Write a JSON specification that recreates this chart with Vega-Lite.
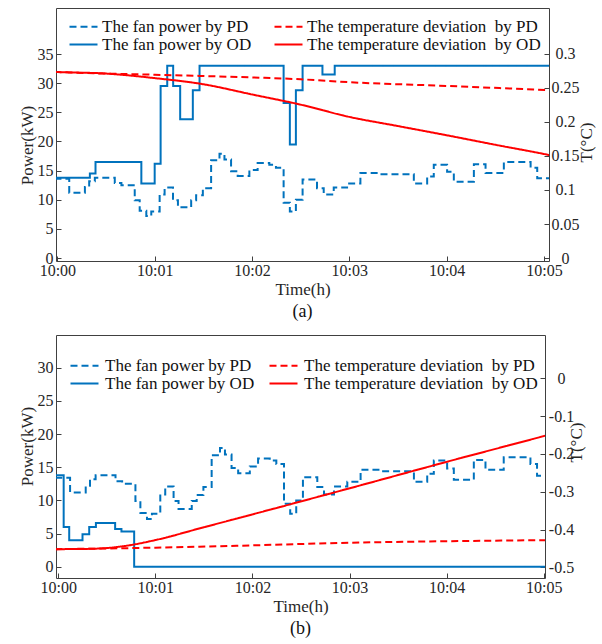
{
  "$schema": "https://vega.github.io/schema/vega-lite/v6.json",
  "padding": {"left": 17, "top": 7, "right": 5, "bottom": 5},
  "background": "white",
  "spacing": 12,
  "config": {
    "font": "Liberation Serif, Times New Roman, serif",
    "view": {"stroke": "#404040", "strokeWidth": 1},
    "axis": {"grid": false, "domain": false, "ticks": true, "tickSize": -5, "tickColor": "#404040", "tickWidth": 1,
      "labelFont": "Liberation Serif, Times New Roman, serif", "labelFontSize": 16, "labelColor": "#262626",
      "titleFont": "Liberation Serif, Times New Roman, serif", "titleFontSize": 17, "titleFontWeight": "normal", "titleColor": "#262626"},
    "legend": {"labelFont": "Liberation Serif, Times New Roman, serif", "labelFontSize": 17, "labelColor": "#111111", "labelLimit": 0},
    "title": {"font": "Liberation Serif, Times New Roman, serif", "fontSize": 18, "fontWeight": "normal", "color": "#111111"}
  },
  "resolve": {"scale": {"color": "independent", "strokeDash": "independent"}, "legend": {"color": "independent", "strokeDash": "independent"}},
  "datasets": {
    "fan_a": [
      {"t": -0.03, "v": 13.6, "series": "The fan power by PD"},
      {"t": 0.122, "v": 11.2, "series": "The fan power by PD"},
      {"t": 0.283, "v": 12.2, "series": "The fan power by PD"},
      {"t": 0.327, "v": 13.2, "series": "The fan power by PD"},
      {"t": 0.385, "v": 13.8, "series": "The fan power by PD"},
      {"t": 0.59, "v": 12.9, "series": "The fan power by PD"},
      {"t": 0.658, "v": 12.5, "series": "The fan power by PD"},
      {"t": 0.795, "v": 9.9, "series": "The fan power by PD"},
      {"t": 0.846, "v": 8.1, "series": "The fan power by PD"},
      {"t": 0.914, "v": 7.2, "series": "The fan power by PD"},
      {"t": 0.965, "v": 8.0, "series": "The fan power by PD"},
      {"t": 1.051, "v": 10.9, "series": "The fan power by PD"},
      {"t": 1.102, "v": 12.1, "series": "The fan power by PD"},
      {"t": 1.188, "v": 9.9, "series": "The fan power by PD"},
      {"t": 1.239, "v": 8.7, "series": "The fan power by PD"},
      {"t": 1.375, "v": 9.9, "series": "The fan power by PD"},
      {"t": 1.426, "v": 10.8, "series": "The fan power by PD"},
      {"t": 1.495, "v": 12.0, "series": "The fan power by PD"},
      {"t": 1.58, "v": 16.8, "series": "The fan power by PD"},
      {"t": 1.666, "v": 17.9, "series": "The fan power by PD"},
      {"t": 1.717, "v": 16.9, "series": "The fan power by PD"},
      {"t": 1.785, "v": 14.9, "series": "The fan power by PD"},
      {"t": 1.853, "v": 14.1, "series": "The fan power by PD"},
      {"t": 1.973, "v": 15.1, "series": "The fan power by PD"},
      {"t": 2.058, "v": 16.3, "series": "The fan power by PD"},
      {"t": 2.178, "v": 16.0, "series": "The fan power by PD"},
      {"t": 2.246, "v": 15.5, "series": "The fan power by PD"},
      {"t": 2.325, "v": 9.5, "series": "The fan power by PD"},
      {"t": 2.389, "v": 8.0, "series": "The fan power by PD"},
      {"t": 2.451, "v": 10.0, "series": "The fan power by PD"},
      {"t": 2.52, "v": 13.5, "series": "The fan power by PD"},
      {"t": 2.668, "v": 12.0, "series": "The fan power by PD"},
      {"t": 2.737, "v": 10.9, "series": "The fan power by PD"},
      {"t": 2.84, "v": 12.1, "series": "The fan power by PD"},
      {"t": 2.977, "v": 12.8, "series": "The fan power by PD"},
      {"t": 3.114, "v": 14.6, "series": "The fan power by PD"},
      {"t": 3.32, "v": 14.4, "series": "The fan power by PD"},
      {"t": 3.663, "v": 12.8, "series": "The fan power by PD"},
      {"t": 3.8, "v": 14.0, "series": "The fan power by PD"},
      {"t": 3.868, "v": 16.0, "series": "The fan power by PD"},
      {"t": 4.005, "v": 14.8, "series": "The fan power by PD"},
      {"t": 4.074, "v": 13.1, "series": "The fan power by PD"},
      {"t": 4.28, "v": 16.1, "series": "The fan power by PD"},
      {"t": 4.4, "v": 14.6, "series": "The fan power by PD"},
      {"t": 4.588, "v": 16.5, "series": "The fan power by PD"},
      {"t": 4.863, "v": 15.5, "series": "The fan power by PD"},
      {"t": 4.931, "v": 13.7, "series": "The fan power by PD"},
      {"t": 5.1, "v": 13.7, "series": "The fan power by PD"},
      {"t": -0.03, "v": 13.8, "series": "The fan power by OD"},
      {"t": 0.334, "v": 14.5, "series": "The fan power by OD"},
      {"t": 0.392, "v": 16.5, "series": "The fan power by OD"},
      {"t": 0.863, "v": 12.8, "series": "The fan power by OD"},
      {"t": 1.0, "v": 16.2, "series": "The fan power by OD"},
      {"t": 1.061, "v": 29.5, "series": "The fan power by OD"},
      {"t": 1.129, "v": 33.0, "series": "The fan power by OD"},
      {"t": 1.19, "v": 29.5, "series": "The fan power by OD"},
      {"t": 1.262, "v": 23.8, "series": "The fan power by OD"},
      {"t": 1.392, "v": 28.8, "series": "The fan power by OD"},
      {"t": 1.461, "v": 33.0, "series": "The fan power by OD"},
      {"t": 2.325, "v": 26.6, "series": "The fan power by OD"},
      {"t": 2.389, "v": 19.5, "series": "The fan power by OD"},
      {"t": 2.451, "v": 28.8, "series": "The fan power by OD"},
      {"t": 2.52, "v": 33.0, "series": "The fan power by OD"},
      {"t": 2.724, "v": 31.5, "series": "The fan power by OD"},
      {"t": 2.85, "v": 33.0, "series": "The fan power by OD"},
      {"t": 5.1, "v": 33.0, "series": "The fan power by OD"}
    ],
    "temp_a": [
      {"t": -0.03, "v": 0.2737, "series": "The temperature deviation\u00a0 by PD"},
      {"t": 0.0, "v": 0.2735, "series": "The temperature deviation\u00a0 by PD"},
      {"t": 1.0, "v": 0.2695, "series": "The temperature deviation\u00a0 by PD"},
      {"t": 2.0, "v": 0.2655, "series": "The temperature deviation\u00a0 by PD"},
      {"t": 2.5, "v": 0.2628, "series": "The temperature deviation\u00a0 by PD"},
      {"t": 3.0, "v": 0.2585, "series": "The temperature deviation\u00a0 by PD"},
      {"t": 4.0, "v": 0.253, "series": "The temperature deviation\u00a0 by PD"},
      {"t": 5.1, "v": 0.2465, "series": "The temperature deviation\u00a0 by PD"},
      {"t": -0.03, "v": 0.2737, "series": "The temperature deviation\u00a0 by OD"},
      {"t": 0.0, "v": 0.2735, "series": "The temperature deviation\u00a0 by OD"},
      {"t": 0.5, "v": 0.2712, "series": "The temperature deviation\u00a0 by OD"},
      {"t": 1.0, "v": 0.2645, "series": "The temperature deviation\u00a0 by OD"},
      {"t": 1.5, "v": 0.2555, "series": "The temperature deviation\u00a0 by OD"},
      {"t": 2.0, "v": 0.2405, "series": "The temperature deviation\u00a0 by OD"},
      {"t": 2.5, "v": 0.2255, "series": "The temperature deviation\u00a0 by OD"},
      {"t": 3.0, "v": 0.2075, "series": "The temperature deviation\u00a0 by OD"},
      {"t": 3.5, "v": 0.194, "series": "The temperature deviation\u00a0 by OD"},
      {"t": 4.0, "v": 0.1805, "series": "The temperature deviation\u00a0 by OD"},
      {"t": 4.5, "v": 0.1665, "series": "The temperature deviation\u00a0 by OD"},
      {"t": 5.05, "v": 0.1515, "series": "The temperature deviation\u00a0 by OD"},
      {"t": 5.1, "v": 0.150, "series": "The temperature deviation\u00a0 by OD"}
    ],
    "fan_b": [
      {"t": -0.03, "v": 13.4, "series": "The fan power by PD"},
      {"t": 0.122, "v": 11.2, "series": "The fan power by PD"},
      {"t": 0.283, "v": 12.2, "series": "The fan power by PD"},
      {"t": 0.327, "v": 13.2, "series": "The fan power by PD"},
      {"t": 0.385, "v": 13.8, "series": "The fan power by PD"},
      {"t": 0.59, "v": 12.9, "series": "The fan power by PD"},
      {"t": 0.658, "v": 12.5, "series": "The fan power by PD"},
      {"t": 0.795, "v": 9.9, "series": "The fan power by PD"},
      {"t": 0.846, "v": 8.1, "series": "The fan power by PD"},
      {"t": 0.914, "v": 7.2, "series": "The fan power by PD"},
      {"t": 0.965, "v": 8.0, "series": "The fan power by PD"},
      {"t": 1.051, "v": 10.9, "series": "The fan power by PD"},
      {"t": 1.102, "v": 12.1, "series": "The fan power by PD"},
      {"t": 1.188, "v": 9.9, "series": "The fan power by PD"},
      {"t": 1.239, "v": 8.7, "series": "The fan power by PD"},
      {"t": 1.375, "v": 9.9, "series": "The fan power by PD"},
      {"t": 1.426, "v": 10.8, "series": "The fan power by PD"},
      {"t": 1.495, "v": 12.0, "series": "The fan power by PD"},
      {"t": 1.58, "v": 16.8, "series": "The fan power by PD"},
      {"t": 1.666, "v": 17.9, "series": "The fan power by PD"},
      {"t": 1.717, "v": 16.9, "series": "The fan power by PD"},
      {"t": 1.785, "v": 14.9, "series": "The fan power by PD"},
      {"t": 1.853, "v": 14.1, "series": "The fan power by PD"},
      {"t": 1.973, "v": 15.1, "series": "The fan power by PD"},
      {"t": 2.058, "v": 16.3, "series": "The fan power by PD"},
      {"t": 2.178, "v": 16.0, "series": "The fan power by PD"},
      {"t": 2.246, "v": 15.5, "series": "The fan power by PD"},
      {"t": 2.325, "v": 9.5, "series": "The fan power by PD"},
      {"t": 2.389, "v": 8.0, "series": "The fan power by PD"},
      {"t": 2.451, "v": 10.0, "series": "The fan power by PD"},
      {"t": 2.52, "v": 13.5, "series": "The fan power by PD"},
      {"t": 2.668, "v": 12.0, "series": "The fan power by PD"},
      {"t": 2.737, "v": 10.9, "series": "The fan power by PD"},
      {"t": 2.84, "v": 12.1, "series": "The fan power by PD"},
      {"t": 2.977, "v": 12.8, "series": "The fan power by PD"},
      {"t": 3.114, "v": 14.6, "series": "The fan power by PD"},
      {"t": 3.32, "v": 14.4, "series": "The fan power by PD"},
      {"t": 3.663, "v": 12.8, "series": "The fan power by PD"},
      {"t": 3.8, "v": 14.0, "series": "The fan power by PD"},
      {"t": 3.868, "v": 16.0, "series": "The fan power by PD"},
      {"t": 4.005, "v": 14.8, "series": "The fan power by PD"},
      {"t": 4.074, "v": 13.1, "series": "The fan power by PD"},
      {"t": 4.28, "v": 16.1, "series": "The fan power by PD"},
      {"t": 4.4, "v": 14.6, "series": "The fan power by PD"},
      {"t": 4.588, "v": 16.5, "series": "The fan power by PD"},
      {"t": 4.863, "v": 15.5, "series": "The fan power by PD"},
      {"t": 4.931, "v": 13.7, "series": "The fan power by PD"},
      {"t": 5.1, "v": 13.7, "series": "The fan power by PD"},
      {"t": -0.03, "v": 13.8, "series": "The fan power by OD"},
      {"t": 0.056, "v": 6.0, "series": "The fan power by OD"},
      {"t": 0.113, "v": 4.0, "series": "The fan power by OD"},
      {"t": 0.25, "v": 4.9, "series": "The fan power by OD"},
      {"t": 0.319, "v": 6.0, "series": "The fan power by OD"},
      {"t": 0.388, "v": 6.6, "series": "The fan power by OD"},
      {"t": 0.586, "v": 5.7, "series": "The fan power by OD"},
      {"t": 0.651, "v": 5.3, "series": "The fan power by OD"},
      {"t": 0.782, "v": 0.0, "series": "The fan power by OD"},
      {"t": 5.1, "v": 0.0, "series": "The fan power by OD"}
    ],
    "temp_b": [
      {"t": -0.03, "v": -0.452, "series": "The temperature deviation\u00a0 by PD"},
      {"t": 1.0, "v": -0.448, "series": "The temperature deviation\u00a0 by PD"},
      {"t": 2.0, "v": -0.442, "series": "The temperature deviation\u00a0 by PD"},
      {"t": 3.0, "v": -0.435, "series": "The temperature deviation\u00a0 by PD"},
      {"t": 4.0, "v": -0.431, "series": "The temperature deviation\u00a0 by PD"},
      {"t": 5.1, "v": -0.428, "series": "The temperature deviation\u00a0 by PD"},
      {"t": -0.03, "v": -0.452, "series": "The temperature deviation\u00a0 by OD"},
      {"t": 0.25, "v": -0.4515, "series": "The temperature deviation\u00a0 by OD"},
      {"t": 0.5, "v": -0.449, "series": "The temperature deviation\u00a0 by OD"},
      {"t": 0.75, "v": -0.441, "series": "The temperature deviation\u00a0 by OD"},
      {"t": 1.0, "v": -0.428, "series": "The temperature deviation\u00a0 by OD"},
      {"t": 1.5, "v": -0.394, "series": "The temperature deviation\u00a0 by OD"},
      {"t": 2.0, "v": -0.36, "series": "The temperature deviation\u00a0 by OD"},
      {"t": 3.0, "v": -0.291, "series": "The temperature deviation\u00a0 by OD"},
      {"t": 4.0, "v": -0.221, "series": "The temperature deviation\u00a0 by OD"},
      {"t": 5.013, "v": -0.152, "series": "The temperature deviation\u00a0 by OD"},
      {"t": 5.1, "v": -0.146, "series": "The temperature deviation\u00a0 by OD"}
    ]
  },
  "vconcat": [
    {
      "width": 493,
      "height": 253,
      "title": {"text": "(a)", "orient": "bottom", "offset": 6},
      "resolve": {"scale": {"y": "independent"}, "axis": {"y": "independent"}},
      "layer": [
        {
          "data": {"name": "fan_a"},
          "mark": {"type": "line", "interpolate": "step-after", "strokeWidth": 2, "clip": true},
          "encoding": {
            "x": {"field": "t", "type": "quantitative",
              "scale": {"domain": [-0.014, 5.052], "nice": false, "zero": false},
              "axis": {"values": [0, 1, 2, 3, 4, 5], "labelExpr": "'10:0' + datum.value", "title": "Time(h)", "labelFlush": true, "labelFlushOffset": 3, "labelPadding": 6, "titlePadding": 3}},
            "y": {"field": "v", "type": "quantitative",
              "scale": {"domain": [-0.5, 42.9], "nice": false, "zero": false},
              "axis": {"values": [0, 5, 10, 15, 20, 25, 30, 35], "title": "Power(kW)", "labelPadding": 8, "titlePadding": 1, "titleY": 137}},
            "color": {"field": "series", "type": "nominal",
              "scale": {"domain": ["The fan power by PD", "The fan power by OD", "The temperature deviation\u00a0 by PD", "The temperature deviation\u00a0 by OD"], "range": ["#0072BD", "#0072BD", "#FF0000", "#FF0000"]},
              "legend": {"title": null, "orient": "none", "legendX": 19, "legendY": 10, "columns": 2, "columnPadding": 18, "rowPadding": 0, "symbolType": "M-2,0H2", "symbolSize": 196, "symbolStrokeWidth": 2, "labelOffset": 10}},
            "strokeDash": {"field": "series", "type": "nominal",
              "scale": {"domain": ["The fan power by PD", "The fan power by OD", "The temperature deviation\u00a0 by PD", "The temperature deviation\u00a0 by OD"], "range": [[7, 4], [1, 0], [7, 4], [1, 0]]},
              "legend": {"title": null, "orient": "none", "legendX": 19, "legendY": 10, "columns": 2, "columnPadding": 18, "rowPadding": 0, "symbolType": "M-2,0H2", "symbolSize": 196, "symbolStrokeWidth": 2, "labelOffset": 10}}
          }
        },
        {
          "data": {"name": "temp_a"},
          "mark": {"type": "line", "interpolate": "monotone", "strokeWidth": 2, "clip": true},
          "encoding": {
            "x": {"field": "t", "type": "quantitative", "scale": {"domain": [-0.014, 5.052], "nice": false, "zero": false}},
            "y": {"field": "v", "type": "quantitative",
              "scale": {"domain": [-0.0044, 0.3676], "nice": false, "zero": false},
              "axis": {"orient": "right", "values": [0, 0.05, 0.1, 0.15, 0.2, 0.25, 0.3], "labelExpr": "'' + datum.value", "labelAlign": "center", "labelPadding": 21, "title": "T(°C)", "titleAngle": -90, "titleBaseline": "top", "titlePadding": -1, "titleY": 134}},
            "color": {"field": "series", "type": "nominal",
              "scale": {"domain": ["The fan power by PD", "The fan power by OD", "The temperature deviation\u00a0 by PD", "The temperature deviation\u00a0 by OD"], "range": ["#0072BD", "#0072BD", "#FF0000", "#FF0000"]},
              "legend": {"title": null, "orient": "none", "legendX": 19, "legendY": 10, "columns": 2, "columnPadding": 18, "rowPadding": 0, "symbolType": "M-2,0H2", "symbolSize": 196, "symbolStrokeWidth": 2, "labelOffset": 10}},
            "strokeDash": {"field": "series", "type": "nominal",
              "scale": {"domain": ["The fan power by PD", "The fan power by OD", "The temperature deviation\u00a0 by PD", "The temperature deviation\u00a0 by OD"], "range": [[7, 4], [1, 0], [7, 4], [1, 0]]},
              "legend": {"title": null, "orient": "none", "legendX": 19, "legendY": 10, "columns": 2, "columnPadding": 18, "rowPadding": 0, "symbolType": "M-2,0H2", "symbolSize": 196, "symbolStrokeWidth": 2, "labelOffset": 10}}
          }
        }
      ]
    },
    {
      "width": 489,
      "height": 243,
      "title": {"text": "(b)", "orient": "bottom", "offset": 6},
      "resolve": {"scale": {"y": "independent"}, "axis": {"y": "independent"}},
      "layer": [
        {
          "data": {"name": "fan_b"},
          "mark": {"type": "line", "interpolate": "step-after", "strokeWidth": 2, "clip": true},
          "encoding": {
            "x": {"field": "t", "type": "quantitative",
              "scale": {"domain": [-0.023, 5.013], "nice": false, "zero": false},
              "axis": {"values": [0, 1, 2, 3, 4, 5], "labelExpr": "'10:0' + datum.value", "title": "Time(h)", "labelFlush": true, "labelFlushOffset": 3, "labelPadding": 6, "titlePadding": 3}},
            "y": {"field": "v", "type": "quantitative",
              "scale": {"domain": [-1.7, 34.93], "nice": false, "zero": false},
              "axis": {"values": [0, 5, 10, 15, 20, 25, 30], "title": "Power(kW)", "labelPadding": 8, "titlePadding": 1, "titleY": 111}},
            "color": {"field": "series", "type": "nominal",
              "scale": {"domain": ["The fan power by PD", "The fan power by OD", "The temperature deviation\u00a0 by PD", "The temperature deviation\u00a0 by OD"], "range": ["#0072BD", "#0072BD", "#FF0000", "#FF0000"]},
              "legend": {"title": null, "orient": "none", "legendX": 20, "legendY": 22, "columns": 2, "columnPadding": 10, "rowPadding": 0, "symbolType": "M-2,0H2", "symbolSize": 196, "symbolStrokeWidth": 2, "labelOffset": 12}},
            "strokeDash": {"field": "series", "type": "nominal",
              "scale": {"domain": ["The fan power by PD", "The fan power by OD", "The temperature deviation\u00a0 by PD", "The temperature deviation\u00a0 by OD"], "range": [[7, 4], [1, 0], [7, 4], [1, 0]]},
              "legend": {"title": null, "orient": "none", "legendX": 20, "legendY": 22, "columns": 2, "columnPadding": 10, "rowPadding": 0, "symbolType": "M-2,0H2", "symbolSize": 196, "symbolStrokeWidth": 2, "labelOffset": 12}}
          }
        },
        {
          "data": {"name": "temp_b"},
          "mark": {"type": "line", "interpolate": "monotone", "strokeWidth": 2, "clip": true},
          "encoding": {
            "x": {"field": "t", "type": "quantitative", "scale": {"domain": [-0.023, 5.013], "nice": false, "zero": false}},
            "y": {"field": "v", "type": "quantitative",
              "scale": {"domain": [-0.5283, 0.1146], "nice": false, "zero": false},
              "axis": {"orient": "right", "values": [-0.5, -0.4, -0.3, -0.2, -0.1, 0], "labelExpr": "'' + datum.value", "labelAlign": "center", "labelPadding": 21, "title": "T(°C)", "titleAngle": -90, "titleBaseline": "top", "titlePadding": -5, "titleY": 107}},
            "color": {"field": "series", "type": "nominal",
              "scale": {"domain": ["The fan power by PD", "The fan power by OD", "The temperature deviation\u00a0 by PD", "The temperature deviation\u00a0 by OD"], "range": ["#0072BD", "#0072BD", "#FF0000", "#FF0000"]},
              "legend": {"title": null, "orient": "none", "legendX": 20, "legendY": 22, "columns": 2, "columnPadding": 10, "rowPadding": 0, "symbolType": "M-2,0H2", "symbolSize": 196, "symbolStrokeWidth": 2, "labelOffset": 12}},
            "strokeDash": {"field": "series", "type": "nominal",
              "scale": {"domain": ["The fan power by PD", "The fan power by OD", "The temperature deviation\u00a0 by PD", "The temperature deviation\u00a0 by OD"], "range": [[7, 4], [1, 0], [7, 4], [1, 0]]},
              "legend": {"title": null, "orient": "none", "legendX": 20, "legendY": 22, "columns": 2, "columnPadding": 10, "rowPadding": 0, "symbolType": "M-2,0H2", "symbolSize": 196, "symbolStrokeWidth": 2, "labelOffset": 12}}
          }
        }
      ]
    }
  ]
}
